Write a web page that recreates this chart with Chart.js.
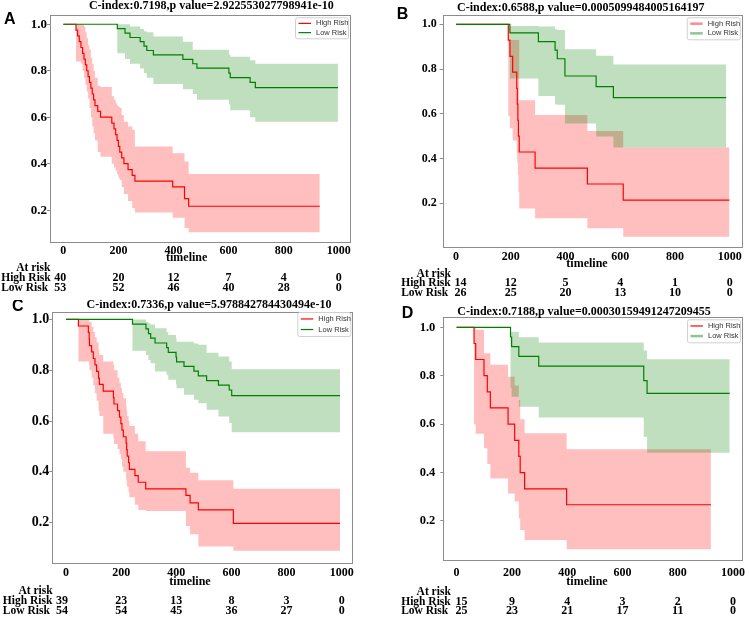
<!DOCTYPE html>
<html>
<head>
<meta charset="utf-8">
<script src="https://cdn.jsdelivr.net/npm/chart.js@4.4.0/dist/chart.umd.min.js"></script>
<style>
  body { margin: 0; background: #fff; }
  #wrap { position: relative; width: 750px; height: 617px; overflow: hidden; }
  canvas { position: absolute; }
</style>
</head>
<body>
<div id="wrap">
  <canvas id="cA" width="375" height="300" style="left:0;top:0"></canvas>
  <canvas id="cB" width="375" height="300" style="left:375px;top:0"></canvas>
  <canvas id="cC" width="375" height="317" style="left:0;top:300px"></canvas>
  <canvas id="cD" width="375" height="317" style="left:375px;top:300px"></canvas>
</div>
<script>
// axis ticks + names
const xTicks = [0, 200, 400, 600, 800, 1000];
const yTicks = [0.2, 0.4, 0.6, 0.8, 1.0];
const legendNames = ['High Rish', 'Low Risk'];
const riskRowNames = ['High Risk', 'Low Risk'];

// ---- panel A ----
const aTitle = 'C-index:0.7198,p value=2.922553027798941e-10';
const aHighT = [0,46,52,58,64,70,75,80,85,90,95,100,105,110,115,125,135,176,184,190,195,200,205,212,220,235,250,260,397,440,455,931];
const aHighS = [1,.975,.95,.925,.9,.875,.85,.825,.8,.775,.75,.725,.7,.675,.65,.625,.6,.575,.55,.525,.5,.475,.45,.425,.4,.375,.35,.325,.3,.25,.217,.217];
const aHighHi = [1,1,1,1,1,1,.99,.965,.94,.91,.89,.855,.83,.8,.77,.735,.73,.69,.675,.66,.65,.645,.64,.61,.58,.56,.545,.474,.445,.41,.356,.356];
const aHighLo = [1,.84,.84,.84,.83,.8,.77,.74,.71,.68,.64,.6,.56,.53,.5,.45,.43,.4,.385,.37,.355,.34,.33,.3,.27,.24,.21,.19,.168,.123,.105,.105];
const aLowT = [0,196,224,242,279,293,303,327,434,470,485,601,606,678,697,997];
const aLowS = [1,.981,.962,.943,.925,.906,.887,.868,.849,.83,.811,.79,.77,.75,.727,.727];
const aLowHi = [1,1,1,.99,.98,.97,.965,.947,.925,.89,.89,.87,.86,.845,.83,.83];
const aLowLo = [1,.875,.85,.83,.81,.79,.77,.743,.72,.7,.675,.655,.63,.6,.58,.58];
const aRiskHigh = [40, 20, 12, 7, 4, 0];
const aRiskLow = [53, 52, 46, 40, 28, 0];

// ---- panel B ----
const bTitle = 'C-index:0.6588,p value=0.0005099484005164197';
const bHighT = [0,191,197,207,222,224,226,228,231,289,480,611,999];
const bHighS = [1,.929,.857,.786,.714,.643,.571,.5,.429,.357,.286,.214,.214];
const bHighHi = [1,.99,.93,.93,.93,.93,.93,.93,.66,.595,.523,.449,.449];
const bHighLo = [1,.59,.535,.48,.42,.38,.33,.25,.177,.133,.088,.05,.05];
const bLowT = [0,197,301,362,370,398,512,575,987];
const bLowS = [1,.962,.923,.885,.846,.769,.721,.672,.672];
const bLowHi = [1,.993,.99,.978,.975,.888,.86,.82,.82];
const bLowLo = [1,.758,.68,.642,.64,.557,.498,.449,.449];
const bRiskHigh = [14, 12, 5, 4, 1, 0];
const bRiskLow = [26, 25, 20, 13, 10, 0];

// ---- panel C ----
const cTitle = 'C-index:0.7336,p value=5.978842784430494e-10';
const cHighT = [0,45,81,84,85,93,99,105,111,118,121,135,172,174,187,194,199,203,208,218,220,222,227,230,250,262,289,435,450,480,607,994];
const cHighS = [1,.974,.949,.923,.897,.872,.846,.821,.795,.769,.744,.718,.692,.667,.641,.615,.59,.564,.538,.513,.487,.462,.436,.41,.385,.359,.333,.307,.278,.25,.197,.197];
const cHighHi = [1,1,1,.995,.99,.97,.95,.93,.91,.88,.86,.834,.82,.8,.77,.75,.73,.71,.69,.66,.64,.62,.6,.58,.55,.52,.481,.416,.396,.367,.333,.333];
const cHighLo = [1,.834,.834,.82,.8,.77,.74,.71,.68,.64,.62,.55,.53,.51,.49,.47,.45,.42,.4,.37,.35,.34,.32,.3,.27,.25,.246,.187,.154,.106,.089,.089];
const cLowT = [0,241,290,299,307,323,365,371,399,401,428,464,480,510,553,592,601,994];
const cLowS = [1,.981,.963,.944,.926,.907,.889,.87,.852,.833,.815,.796,.778,.759,.741,.722,.7,.7];
const cLowHi = [1,1,.99,.985,.98,.965,.95,.939,.925,.912,.912,.905,.9,.869,.854,.834,.804,.804];
const cLowLo = [1,.877,.86,.84,.827,.795,.78,.762,.745,.729,.703,.684,.67,.644,.618,.592,.556,.556];
const cRiskHigh = [39, 23, 13, 8, 3, 0];
const cRiskLow = [54, 54, 45, 36, 27, 0];

// ---- panel D ----
const dTitle = 'C-index:0.7188,p value=0.00030159491247209455';
const dHighT = [0,63,69,99,111,122,186,210,225,230,246,398,920];
const dHighS = [1,.933,.867,.8,.733,.667,.6,.533,.467,.4,.333,.267,.267];
const dHighHi = [1,1,.99,.893,.893,.845,.796,.76,.7,.62,.562,.496,.496];
const dHighLo = [1,.6,.56,.5,.435,.376,.314,.28,.21,.163,.121,.083,.083];
const dLowT = [0,195,199,225,297,677,689,988];
const dLowS = [1,.96,.92,.88,.84,.78,.727,.727];
const dLowHi = [1,.982,.982,.959,.937,.904,.868,.868];
const dLowLo = [1,.75,.713,.672,.627,.548,.482,.482];
const dRiskHigh = [15, 9, 4, 3, 2, 0];
const dRiskLow = [25, 23, 21, 17, 11, 0];

const RED = 'rgb(255,0,0)';
const GREEN = 'rgb(0,128,0)';
const SERIF = '"Liberation Serif", "Times New Roman", serif';

function pts(t, v) {
  return t.map((x, i) => ({ x: x, y: v[i] }));
}

// layout for each panel (canvas-relative)
const panels = [
  { id: 'cA', letter: 'A', title: aTitle,
    high: [aHighT, aHighS, aHighHi, aHighLo], low: [aLowT, aLowS, aLowHi, aLowLo], risk: [aRiskHigh, aRiskLow],
    xMin: -48.3, xMax: 1044.3, yMin: 0.062, yMax: 1.041,
    pad: { left: 0, top: 14.7, right: 24, bottom: 37.7 }, yw: 50, xPad: 1.2, yPad: 0, yFont: 13,
    titleXY: [211.3, 5.7], letterXY: [4, 23.5], timelineX: 186.7, atRiskX: 33.3, rowX: 1.2, firstShift: -3,
    rowsY: [16, 26, 36, 45.4], leg: { top: 2.6, h: 21, style: [[1.2, 1], [1.2, 1]] } },
  { id: 'cB', letter: 'B', title: bTitle,
    high: [bHighT, bHighS, bHighHi, bHighLo], low: [bLowT, bLowS, bLowHi, bLowLo], risk: [bRiskHigh, bRiskLow],
    xMin: -48.6, xMax: 1047.5, yMin: 0.003, yMax: 1.043,
    pad: { left: 0, top: 14.7, right: 7.3, bottom: 32.7 }, yw: 67.7, xPad: 2.2, yPad: 3, yFont: 12,
    titleXY: [205.8, 8.3], letterXY: [21.7, 18.5], timelineX: 212, atRiskX: 58.7, rowX: 26.2, firstShift: 4.6,
    rowsY: [16.7, 26.7, 36, 46], leg: { top: 2.6, h: 22, style: [[2.5, 0.45], [2.5, 0.45]] } },
  { id: 'cC', letter: 'C', title: cTitle,
    high: [cHighT, cHighS, cHighHi, cHighLo], low: [cLowT, cLowS, cLowHi, cLowLo], risk: [cRiskHigh, cRiskLow],
    xMin: -49.7, xMax: 1042, yMin: 0.04, yMax: 1.031,
    pad: { left: 0, top: 11.5, right: 21.7, bottom: 33.7 }, yw: 52.3, xPad: 2.8, yPad: 0, yFont: 14,
    titleXY: [209, 5], letterXY: [12, 11], timelineX: 190, atRiskX: 35.5, rowX: 2.8, firstShift: -4,
    rowsY: [18.4, 27.7, 37.7, 47.7], leg: { top: 0.5, h: 24, style: [[1.2, 1], [1.2, 1]] } },
  { id: 'cD', letter: 'D', title: dTitle,
    high: [dHighT, dHighS, dHighHi, dHighLo], low: [dLowT, dLowS, dLowHi, dLowLo], risk: [dRiskHigh, dRiskLow],
    xMin: -48.2, xMax: 1035.9, yMin: 0.036, yMax: 1.0425,
    pad: { left: 0, top: 17, right: 5, bottom: 36.3 }, yw: 68.3, xPad: 4.8, yPad: 5, yFont: 12.5,
    titleXY: [209, 11.7], letterXY: [26.7, 18.3], timelineX: 212, atRiskX: 58.7, rowX: 26.2, firstShift: 4.8,
    rowsY: [21, 31, 41, 50.3], leg: { top: 2.3, h: 23, style: [[1.2, 1], [2.5, 0.45]] } }
];

// box, legend, titles, at-risk table
const decor = {
  id: 'decor',
  afterDraw(chart) {
    const p = chart.config.options.plugins.decor;
    const ctx = chart.ctx, ca = chart.chartArea;
    ctx.save();
    // frame
    ctx.strokeStyle = '#8c8c8c';
    ctx.lineWidth = 1;
    ctx.strokeRect(Math.round(ca.left) + 0.5, Math.round(ca.top) + 0.5,
      Math.round(ca.right - ca.left) - 1, Math.round(ca.bottom - ca.top) - 1);

    // legend
    const lw = 53, lx = ca.right - 3 - lw, ly = ca.top + p.leg.top;
    ctx.fillStyle = 'rgba(255,255,255,0.9)';
    ctx.strokeStyle = '#d0d0d0';
    ctx.beginPath();
    ctx.roundRect(lx + 0.5, ly + 0.5, lw, p.leg.h, 2);
    ctx.fill();
    ctx.stroke();
    const cols = [RED, GREEN];
    ctx.font = '7.5px "Liberation Sans", Arial, sans-serif';
    ctx.textBaseline = 'middle';
    ctx.textAlign = 'left';
    legendNames.forEach((name, i) => {
      const y = ly + p.leg.h * (i === 0 ? 0.29 : 0.73);
      ctx.globalAlpha = p.leg.style[i][1];
      ctx.strokeStyle = cols[i];
      ctx.lineWidth = p.leg.style[i][0];
      ctx.beginPath();
      ctx.moveTo(lx + 3.5, y);
      ctx.lineTo(lx + 16, y);
      ctx.stroke();
      ctx.globalAlpha = 1;
      ctx.fillStyle = '#333';
      ctx.fillText(name, lx + 21, y);
    });

    // title + letter
    ctx.fillStyle = '#000';
    ctx.font = 'bold 12px ' + SERIF;
    ctx.textAlign = 'center';
    ctx.fillText(p.title, p.titleXY[0], p.titleXY[1]);
    ctx.font = 'bold 16px "Liberation Sans", Arial, sans-serif';
    ctx.textAlign = 'left';
    ctx.textBaseline = 'alphabetic';
    ctx.fillText(p.letter, p.letterXY[0], p.letterXY[1]);

    // timeline + at risk
    const b = ca.bottom, xs = chart.scales.x;
    ctx.font = 'bold 12px ' + SERIF;
    ctx.textBaseline = 'middle';
    ctx.textAlign = 'center';
    ctx.fillText('timeline', p.timelineX, b + p.rowsY[0]);
    ctx.font = 'bold 11.5px ' + SERIF;
    ctx.fillText('At risk', p.atRiskX, b + p.rowsY[1]);
    ctx.textAlign = 'left';
    riskRowNames.forEach((n, i) => ctx.fillText(n, p.rowX, b + p.rowsY[2 + i]));
    ctx.font = 'bold 12px ' + SERIF;
    ctx.textAlign = 'center';
    p.risk.forEach((row, i) => {
      row.forEach((n, j) => {
        const x = xs.getPixelForValue(xTicks[j]) + (j === 0 ? p.firstShift : 0);
        ctx.fillText(String(n), x, b + p.rowsY[2 + i]);
      });
    });
    ctx.restore();
  }
};

panels.forEach(p => {
  const bandDs = (arr, color, order) => [
    { data: pts(arr[0], arr[2]), stepped: 'before', borderWidth: 0, pointRadius: 0, fill: false, order: order },
    { data: pts(arr[0], arr[3]), stepped: 'before', borderWidth: 0, pointRadius: 0, fill: '-1',
      backgroundColor: color, order: order }
  ];
  new Chart(document.getElementById(p.id), {
    type: 'line',
    data: {
      datasets: [
        ...bandDs(p.high, 'rgba(255,0,0,0.25)', 3),
        ...bandDs(p.low, 'rgba(0,128,0,0.25)', 2),
        { label: legendNames[0], data: pts(p.high[0], p.high[1]), stepped: 'before', borderColor: RED,
          borderWidth: 1.2, pointRadius: 0, fill: false, order: 1 },
        { label: legendNames[1], data: pts(p.low[0], p.low[1]), stepped: 'before', borderColor: GREEN,
          borderWidth: 1.2, pointRadius: 0, fill: false, order: 0 }
      ]
    },
    options: {
      responsive: false,
      animation: false,
      devicePixelRatio: 1,
      layout: { padding: p.pad },
      plugins: {
        legend: { display: false },
        title: { display: false },
        tooltip: { enabled: false },
        decor: p
      },
      scales: {
        x: {
          type: 'linear', min: p.xMin, max: p.xMax,
          afterBuildTicks: s => { s.ticks = xTicks.map(v => ({ value: v })); },
          afterFit: s => { s.height = 20; },
          grid: { display: false, drawTicks: false },
          border: { display: false },
          ticks: { autoSkip: false, maxRotation: 0, padding: p.xPad, color: '#000',
            font: { family: SERIF, weight: 'bold', size: 12 }, callback: v => String(v) }
        },
        y: {
          min: p.yMin, max: p.yMax,
          afterBuildTicks: s => { s.ticks = yTicks.map(v => ({ value: v })); },
          afterFit: s => { s.width = p.yw; },
          grid: { drawOnChartArea: false, drawTicks: true, tickLength: 3, color: '#8c8c8c' },
          border: { display: false },
          ticks: { padding: p.yPad, color: '#000',
            font: { family: SERIF, weight: 'bold', size: p.yFont }, callback: v => v.toFixed(1) }
        }
      }
    },
    plugins: [decor]
  });
});
</script>
</body>
</html>
